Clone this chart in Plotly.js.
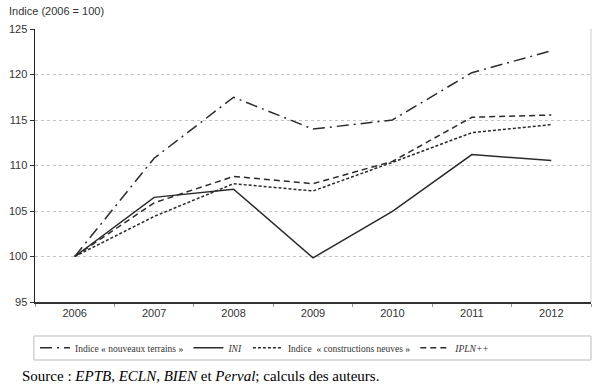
<!DOCTYPE html>
<html>
<head>
<meta charset="utf-8">
<script src="https://cdn.plot.ly/plotly-3.0.1.min.js"></script>
<style>
html,body{margin:0;padding:0;background:#fff;}
#chart{width:600px;height:387px;}
</style>
</head>
<body>
<div id="chart"></div>
<script>
const years = ["2006","2007","2008","2009","2010","2011","2012"];
const nouveauxTerrains = [100, 110.8, 117.5, 114.0, 115.0, 120.2, 122.6];
const ini = [100, 106.5, 107.4, 99.85, 104.95, 111.2, 110.55];
const constructionsNeuves = [100, 104.4, 108.0, 107.2, 110.35, 113.6, 114.5];
const ipln = [100, 105.9, 108.8, 108.0, 110.45, 115.3, 115.55];
const yTicks = [95, 100, 105, 110, 115, 120, 125];

const names = ["Indice « nouveaux terrains »", "<i>INI</i>", "Indice  « constructions neuves »", "<i>IPLN++</i>"];

const lc = "#2b2b2b";
const traces = [
  {x: years, y: nouveauxTerrains, name: names[0], mode: "lines", line: {color: lc, width: 1.5, dash: "12px,5px,2px,5px"}},
  {x: years, y: ini, name: names[1], mode: "lines", line: {color: lc, width: 1.5, dash: "solid"}},
  {x: years, y: constructionsNeuves, name: names[2], mode: "lines", line: {color: lc, width: 1.5, dash: "3px,2px"}},
  {x: years, y: ipln, name: names[3], mode: "lines", line: {color: lc, width: 1.5, dash: "6px,4px"}}
];

const layout = {
  width: 600, height: 387,
  margin: {l: 35, r: 9, t: 29, b: 85},
  paper_bgcolor: "#fff", plot_bgcolor: "#fff",
  font: {family: "Liberation Sans, Arial, sans-serif", size: 11, color: "#333"},
  showlegend: true,
  legend: {
    orientation: "h", x: 0.0, xanchor: "left", y: -0.168, yanchor: "middle",
    font: {family: "Liberation Serif, Times New Roman, serif", size: 9.5, color: "#333"},
    bgcolor: "rgba(0,0,0,0)", borderwidth: 0, tracegroupgap: 0
  },
  xaxis: {
    type: "category", range: [-0.5, 6.5], tickson: "boundaries",
    ticks: "outside", ticklen: 3, tickcolor: "#999",
    showline: true, linecolor: "#333", linewidth: 1.5,
    showgrid: false, zeroline: false, fixedrange: true,
    tickfont: {size: 11, color: "#333"}
  },
  yaxis: {
    range: [95, 125], tickvals: yTicks, ticktext: yTicks.map(String),
    ticks: "outside", ticklen: 4, tickcolor: "#333",
    showline: true, linecolor: "#222", linewidth: 1.5,
    showgrid: true, gridcolor: "#c4c4c4", griddash: "dot", gridwidth: 1,
    zeroline: false, fixedrange: true,
    tickfont: {size: 11, color: "#333"}
  },
  shapes: [
    {type: "line", xref: "paper", yref: "paper", x0: 1, x1: 1, y0: 0, y1: 1, line: {color: "#ccc", width: 1}},
    {type: "rect", xref: "paper", yref: "paper", x0: -0.002, x1: 1.0, y0: -0.1245, y1: -0.2125, line: {color: "#bbb", width: 1}}
  ],
  annotations: [
    {text: "Indice (2006 = 100)", xref: "paper", yref: "paper", x: -0.05, y: 1.065, xanchor: "left", yanchor: "middle", showarrow: false, font: {size: 11, color: "#333"}},
    {text: "Source : <i>EPTB, ECLN, BIEN</i> et <i>Perval</i>; calculs des auteurs.", xref: "paper", yref: "paper", x: -0.027, y: -0.27, xanchor: "left", yanchor: "middle", showarrow: false, font: {family: "Liberation Serif, Times New Roman, serif", size: 15, color: "#000"}}
  ]
};

Plotly.newPlot("chart", traces, layout, {displayModeBar: false, staticPlot: true});
</script>
</body>
</html>
